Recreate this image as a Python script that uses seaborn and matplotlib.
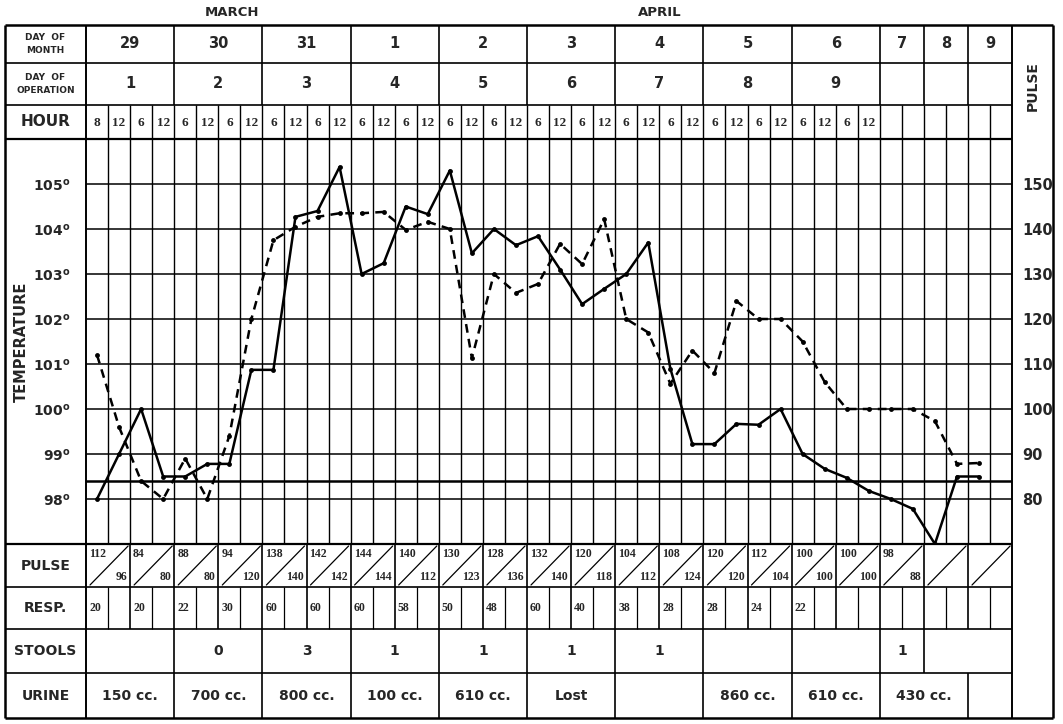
import numpy as np
import pandas as pd
import matplotlib
matplotlib.use("Agg")
import matplotlib.pyplot as plt
import seaborn as sns

# --- header data ---
months = ["MARCH", "APRIL"]
month_x = [232, 660]
day_of_month = ["29", "30", "31", "1", "2", "3", "4", "5", "6", "7", "8", "9"]
day_of_operation = ["1", "2", "3", "4", "5", "6", "7", "8", "9", "", "", ""]
day_widths = [4] * 9 + [2] * 3
hours = ["8", "12", "6", "12"] + ["6", "12", "6", "12"] * 8 + [""] * 6

# --- chart data (one reading per hour column) ---
temperature = [98.0, 99.0, 100.0, 98.5, 98.5, 98.78, 98.78, 100.87, 100.87, 104.27,
               104.4, 105.38, 103.0, 103.24, 104.5, 104.33, 105.3, 103.46, 104.0, 103.64,
               103.84, 103.1, 102.33, 102.67, 103.0, 103.7, 100.9, 99.22, 99.22, 99.67,
               99.65, 100.0, 99.0, 98.67, 98.47, 98.18, 98.0, 97.78, 97.0, 98.5, 98.5]
pulse = [112, 96, 84, 80, 89, 80, 94, 120, 137.5, 140.5,
         142.7, 143.5, 143.5, 143.8, 139.8, 141.6, 140, 111.3, 130, 125.8,
         127.8, 136.7, 132.2, 142.2, 120, 117, 105.6, 113, 108, 124,
         120, 120, 115, 106, 100, 100, 100, 100, 97.3, 87.8, 88]
temp_ticks = [98, 99, 100, 101, 102, 103, 104, 105]
pulse_ticks = [80, 90, 100, 110, 120, 130, 140, 150]

# --- bottom table data ---
pulse_table = [("112", "96"), ("84", "80"), ("88", "80"), ("94", "120"), ("138", "140"),
               ("142", "142"), ("144", "144"), ("140", "112"), ("130", "123"), ("128", "136"),
               ("132", "140"), ("120", "118"), ("104", "112"), ("108", "124"), ("120", "120"),
               ("112", "104"), ("100", "100"), ("100", "100"), ("98", "88"), ("", ""), ("", "")]
resp = ["20", "20", "22", "30", "60", "60", "60", "58", "50", "48", "60", "40",
        "38", "28", "28", "24", "22"]
stools = ["", "0", "3", "1", "1", "1", "1", "", "", "1", ""]
stool_widths = [4] * 9 + [2, 4]
urine = ["150 cc.", "700 cc.", "800 cc.", "100 cc.", "610 cc.", "Lost", "", "860 cc.",
         "610 cc.", "430 cc.", ""]
urine_widths = [4] * 10 + [2]

# --- layout (pixels) ---
W, H = 1063, 724
X0, CW, NCOL = 86, 22.05, 42
X1 = X0 + NCOL * CW
LEFT, RIGHT = 5, 1053
TOP, R1, R2, R3 = 25, 63, 105, 139
PB, P1, P2, P3, BOT = 544, 587, 629, 673, 718

sns.set_style("white")
plt.rcParams['font.family'] = ['DejaVu Sans']
SERIF = ['Liberation Serif', 'DejaVu Serif']

fig = plt.figure(figsize=(W / 100, H / 100), dpi=100)
bg = fig.add_axes([0, 0, 1, 1])
bg.set_xlim(0, W)
bg.set_ylim(H, 0)
bg.axis("off")


def cx(c):
    return X0 + c * CW


def hl(y, xa, xb, lw=1.0):
    bg.plot([xa, xb], [y, y], color="black", lw=lw, solid_capstyle="butt")


def vl(x, ya, yb, lw=1.0):
    bg.plot([x, x], [ya, yb], color="black", lw=lw, solid_capstyle="butt")


def bounds(widths):
    return np.concatenate([[0], np.cumsum(widths)])


# frame
hl(TOP, LEFT, RIGHT, 1.8)
hl(BOT, LEFT, RIGHT, 1.8)
vl(LEFT, TOP, BOT, 1.8)
vl(RIGHT, TOP, BOT, 1.8)
vl(X0, TOP, BOT, 1.4)
vl(X1, TOP, BOT, 1.4)
for y, lw in [(R1, 1.2), (R2, 1.2), (R3, 1.6), (PB, 1.6), (P1, 1.2), (P2, 1.2), (P3, 1.2)]:
    hl(y, LEFT, X1, lw)

# header rows
db = bounds(day_widths)
for b in db[1:-1]:
    vl(cx(b), TOP, R2, 1.2)
for c in range(1, NCOL):
    vl(cx(c), R2, R3, 1.0)
for i, (d, o) in enumerate(zip(day_of_month, day_of_operation)):
    xm = cx((db[i] + db[i + 1]) / 2)
    bg.text(xm, (TOP + R1) / 2, d, ha="center", va="center", fontsize=10.5, fontweight="bold")
    bg.text(xm, (R1 + R2) / 2, o, ha="center", va="center", fontsize=10.5, fontweight="bold")
for c, h in enumerate(hours):
    bg.text(cx(c + 0.5), (R2 + R3) / 2 + 1, h, ha="center", va="center", fontsize=9.5,
            fontweight="bold", family=SERIF)
for m, x in zip(months, month_x):
    bg.text(x, 13, m, ha="center", va="center", fontsize=9.5, fontweight="bold")

lab = (LEFT + X0) / 2
bg.text(lab, (TOP + R1) / 2, "DAY  OF\nMONTH", ha="center", va="center", fontsize=6.5,
        fontweight="bold", linespacing=1.6)
bg.text(lab, (R1 + R2) / 2, "DAY  OF\nOPERATION", ha="center", va="center", fontsize=6.5,
        fontweight="bold", linespacing=1.6)
bg.text(lab, (R2 + R3) / 2, "HOUR", ha="center", va="center", fontsize=11, fontweight="bold")
bg.text(21, (R3 + PB) / 2, "TEMPERATURE", ha="center", va="center", rotation=90,
        fontsize=10.5, fontweight="bold")
bg.text((X1 + RIGHT) / 2, 86, "PULSE", ha="center", va="center", rotation=90,
        fontsize=10, fontweight="bold")

# pulse row
for k in range(NCOL // 2):
    xa, xb = cx(2 * k), cx(2 * k + 2)
    if k > 0:
        vl(xa, PB, P1, 1.2)
    bg.plot([xa + 4, xb - 2], [P1 - 2, PB + 2], color="black", lw=0.9)
    top, bot = pulse_table[k]
    bg.text(xa + 3, PB + 10, top, ha="left", va="center", fontsize=8.5,
            fontweight="bold", family=SERIF)
    bg.text(xb - 3, P1 - 10, bot, ha="right", va="center", fontsize=8.5,
            fontweight="bold", family=SERIF)

# resp row
for c in range(1, NCOL):
    vl(cx(c), P1, P2, 1.2 if c % 2 == 0 else 0.9)
for k, r in enumerate(resp):
    bg.text(cx(2 * k) + 3, (P1 + P2) / 2, r, ha="left", va="center", fontsize=8.5,
            fontweight="bold", family=SERIF)

# stools and urine rows
sb = bounds(stool_widths)
for i, s in enumerate(stools):
    if i > 0:
        vl(cx(sb[i]), P2, P3, 1.2)
    bg.text(cx((sb[i] + sb[i + 1]) / 2), (P2 + P3) / 2, s, ha="center", va="center",
            fontsize=10, fontweight="bold")
ub = bounds(urine_widths)
for i, u in enumerate(urine):
    if i > 0:
        vl(cx(ub[i]), P3, BOT, 1.2)
    bg.text(cx((ub[i] + ub[i + 1]) / 2), (P3 + BOT) / 2, u, ha="center", va="center",
            fontsize=10, fontweight="bold")

for name, ya, yb in [("PULSE", PB, P1), ("RESP.", P1, P2), ("STOOLS", P2, P3), ("URINE", P3, BOT)]:
    bg.text(lab, (ya + yb) / 2, name, ha="center", va="center", fontsize=10, fontweight="bold")

# --- main chart ---
ax = fig.add_axes([X0 / W, 1 - PB / H, (X1 - X0) / W, (PB - R3) / H])
ax.patch.set_alpha(0)
ax.set_xlim(0, NCOL)
ax.set_ylim(97, 106)
for c in range(1, NCOL):
    ax.axvline(c, color="black", lw=1.0)
for t in range(98, 106):
    ax.axhline(t, color="black", lw=1.1)
ax.axhline(98.4, color="black", lw=1.8)

df = pd.DataFrame({"col": np.arange(len(temperature)) + 0.5,
                   "temperature": temperature, "pulse": pulse})
sns.lineplot(data=df, x="col", y="temperature", ax=ax, color="black", lw=1.8,
             marker="o", markersize=3.5, markeredgewidth=0)
ax.set_yticks(temp_ticks)
ax.set_yticklabels([rf"$\mathbf{{{t}^{{o}}}}$" for t in temp_ticks], fontsize=10)
ax.tick_params(axis="y", length=0, pad=11)
ax.set_xticks([])
ax.set_xlabel("")
ax.set_ylabel("")
for s in ax.spines.values():
    s.set_visible(False)

ax2 = ax.twinx()
ax2.patch.set_alpha(0)
sns.lineplot(data=df, x="col", y="pulse", ax=ax2, color="black", lw=1.8,
             linestyle=(0, (3.5, 2.5)), marker="o", markersize=3.5, markeredgewidth=0)
ax2.set_ylim(70, 160)
ax2.set_yticks(pulse_ticks)
ax2.set_yticklabels([str(p) for p in pulse_ticks], fontsize=10.5, fontweight="bold")
ax2.tick_params(axis="y", length=0, pad=7)
ax2.set_ylabel("")
for s in ax2.spines.values():
    s.set_visible(False)

fig.savefig("out.png", dpi=100)
